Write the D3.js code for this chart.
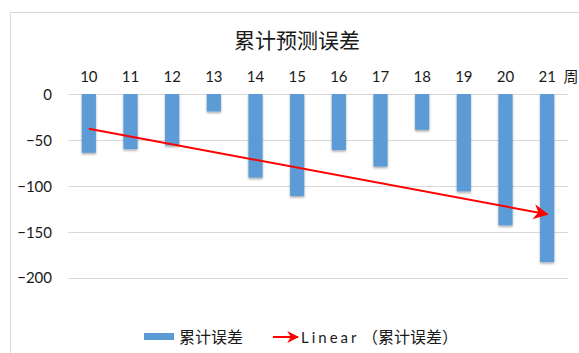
<!DOCTYPE html>
<html>
<head>
<meta charset="utf-8">
<script src="https://cdn.jsdelivr.net/npm/d3@7"></script>
<style>
  body { margin: 0; background: #fff; }
  text { font-family: Lato, "Noto Sans CJK SC", sans-serif; fill: #1a1a1a; }
</style>
</head>
<body>
<div id="chart"></div>
<script>
// data
const weeks = ["10", "11", "12", "13", "14", "15", "16", "17", "18", "19", "20", "21"];
const errors = [-64, -60, -56, -19, -91, -111, -61, -79, -39, -106, -143, -183];
const yTicks = [0, -50, -100, -150, -200];

const W = 579, H = 353;
const margin = { top: 94, right: 11, bottom: 75, left: 68 },
    width = W - margin.left - margin.right,
    height = 277.7 - 94;

const svg = d3.select("#chart")
    .append("svg")
    .attr("width", W)
    .attr("height", H);

// chart frame (only top and left edge visible)
svg.append("path")
    .attr("d", "M10.5,353 V12.5 H579")
    .attr("fill", "none")
    .attr("stroke", "#d9d9d9");

const g = svg.append("g")
    .attr("transform", `translate(${margin.left},${margin.top})`);

const x = d3.scaleBand()
    .domain(weeks)
    .range([0, width])
    .paddingInner(0.66)
    .paddingOuter(0.33);

const y = d3.scaleLinear()
    .domain([0, -200])
    .range([0, height]);

// gridlines
g.append("g")
    .selectAll("line")
    .data(yTicks)
    .join("line")
    .attr("x1", 0)
    .attr("x2", width)
    .attr("y1", d => Math.round(y(d)) + 0.5)
    .attr("y2", d => Math.round(y(d)) + 0.5)
    .attr("stroke", "#d9d9d9");

// y axis labels
const yAxis = g.append("g")
    .call(d3.axisLeft(y).tickValues(yTicks).tickSize(0).tickPadding(16))
    .attr("font-family", null)
    .attr("font-size", null);
yAxis.select(".domain").remove();
yAxis.selectAll("text").attr("style", "font-size: 15px").attr("dy", "0.35em");

// x axis labels on top
const xAxis = g.append("g")
    .attr("transform", "translate(0,-12)")
    .call(d3.axisTop(x).tickSize(0).tickPadding(0))
    .attr("font-family", null)
    .attr("font-size", null);
xAxis.select(".domain").remove();
xAxis.selectAll("text").attr("style", "font-size: 15px").attr("dy", "0");

svg.append("text")
    .attr("x", 571)
    .attr("y", 82)
    .attr("text-anchor", "middle")
    .attr("style", "font-size: 15px")
    .text("周");

// soft shadow under bars
const defs = svg.append("defs");
const f = defs.append("filter").attr("id", "shadow").attr("x", "-30%").attr("y", "-10%").attr("width", "160%").attr("height", "130%");
f.append("feDropShadow").attr("dx", 0).attr("dy", 1.5).attr("stdDeviation", 1).attr("flood-color", "#000").attr("flood-opacity", 0.35);

function arrowMarker(id, size) {
    defs.append("marker")
        .attr("id", id)
        .attr("viewBox", "0 0 10 10")
        .attr("refX", 9)
        .attr("refY", 5)
        .attr("markerWidth", size)
        .attr("markerHeight", size)
        .attr("markerUnits", "strokeWidth")
        .attr("orient", "auto")
        .append("path")
        .attr("d", "M0,0 L10,5 L0,10 L3,5 Z")
        .attr("fill", "#ff0000");
}
arrowMarker("arrow", 7.5);
arrowMarker("arrowLegend", 6);

// bars
g.selectAll("rect.bar")
    .data(errors)
    .join("rect")
    .attr("class", "bar")
    .attr("x", (d, i) => x(weeks[i]))
    .attr("y", y(0))
    .attr("width", x.bandwidth())
    .attr("height", d => y(d) - y(0))
    .attr("fill", "#5b9bd5")
    .attr("filter", "url(#shadow)");

// linear trend line (least squares)
const n = errors.length;
const xs = d3.range(n);
const mx = d3.mean(xs), my = d3.mean(errors);
const slope = d3.sum(xs, i => (i - mx) * (errors[i] - my)) / d3.sum(xs, i => (i - mx) * (i - mx));
const icpt = my - slope * mx;
const cx = i => x(weeks[i]) + x.bandwidth() / 2;

g.append("line")
    .attr("x1", cx(0))
    .attr("y1", y(icpt))
    .attr("x2", cx(n - 1))
    .attr("y2", y(icpt + slope * (n - 1)))
    .attr("stroke", "#ff0000")
    .attr("stroke-width", 2)
    .attr("marker-end", "url(#arrow)");

// title
svg.append("text")
    .attr("x", 297)
    .attr("y", 48)
    .attr("text-anchor", "middle")
    .attr("style", "font-size: 21px")
    .text("累计预测误差");

// legend
const lg = svg.append("g");
lg.append("rect")
    .attr("x", 144).attr("y", 333)
    .attr("width", 30).attr("height", 7)
    .attr("fill", "#5b9bd5");
lg.append("text")
    .attr("x", 179).attr("y", 343)
    .attr("style", "font-size: 16px")
    .text("累计误差");
lg.append("line")
    .attr("x1", 273).attr("y1", 337)
    .attr("x2", 298).attr("y2", 337)
    .attr("stroke", "#ff0000")
    .attr("stroke-width", 2)
    .attr("marker-end", "url(#arrowLegend)");
lg.append("text")
    .attr("x", 301).attr("y", 343)
    .attr("style", "font-size: 15px; letter-spacing: 3px")
    .text("Linear");
lg.append("text")
    .attr("x", 362).attr("y", 343)
    .attr("style", "font-size: 16px")
    .text("（累计误差）");
</script>
</body>
</html>
